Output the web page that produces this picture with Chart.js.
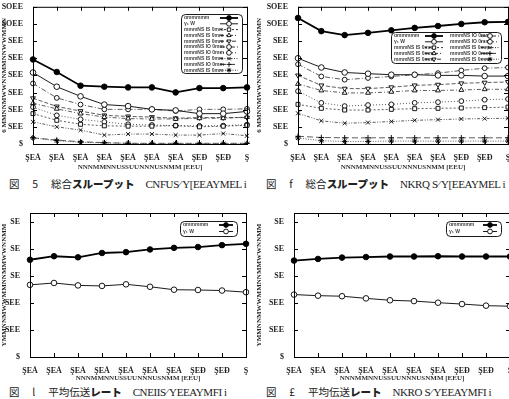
<!DOCTYPE html>
<html>
<head>
<meta charset="utf-8">
<script src="https://cdn.jsdelivr.net/npm/chart.js@4.4.1/dist/chart.umd.min.js"></script>
<style>
  body { margin: 0; width: 509px; height: 399px; overflow: hidden; background: #fff; position: relative; }
  .panel { position: absolute; }
  .cap { position: absolute; font-family: "Liberation Serif", serif; font-size: 11px; color: #222; white-space: nowrap; }
  .cap .jp { font-family: "Noto Sans CJK JP", sans-serif; font-size: 10.5px; }
  .cap b { font-family: "Noto Sans CJK JP", sans-serif; font-weight: 900; font-size: 10.5px; }
  .cap .la { letter-spacing: -0.4px; font-size: 11px; }
</style>
</head>
<body>
<div class="panel" style="left:0;top:0;width:255px;height:172px"><canvas id="c1"></canvas></div>
<div class="panel" style="left:255px;top:0;width:270px;height:172px"><canvas id="c2"></canvas></div>
<div class="panel" style="left:0;top:200px;width:255px;height:183px"><canvas id="c3"></canvas></div>
<div class="panel" style="left:255px;top:200px;width:270px;height:183px"><canvas id="c4"></canvas></div>

<div class="cap" style="left:9px;top:176px"><span class="jp">図　 5　 総合</span><b>スループット</b>　<span class="la">CNFUS⁄ Y[EEAYMEL i</span></div>
<div class="cap" style="left:266px;top:176px"><span class="jp">図　 f　 総合</span><b>スループット</b>　<span class="la">NKRQ S⁄ Y[EEAYMEL i</span></div>
<div class="cap" style="left:9px;top:384px"><span class="jp">図　 l　 平均伝送</span><b>レート</b>　<span class="la">CNEIIS⁄ YEEAYMFI i</span></div>
<div class="cap" style="left:266px;top:384px"><span class="jp">図　 £　 平均伝送</span><b>レート</b>　<span class="la">NKRO S⁄ YEEAYMFI i</span></div>

<script>
const xLabels = ['ŞEÅ', 'ŞEÅ', 'ŞEÅ', 'ŞEÅ', 'ŞEÅ', 'ŞEÅ', 'ŞEÅ', 'ŞEĐ', 'ŞEĐ', 'Ş'];
const yTicksTop = ['$', 'SEE', 'SEE', 'SEE', 'SEE', 'SEE', 'SEE', 'SOEE', 'SOEE'];
const yTicksBottom = ['$', 'SEE', 'SEE', 'SE', 'SE', 'SE'];

const seriesNames = ['ɑmmmmm', 'γ₁ W', 'mmmNS IS 0mm', 'mmmNS IS 0mm', 'mmmNS IS 0mm',
  'mmmNS IO 0mm', 'mmmNS IO 0mm', 'mmmNS IS 0mm', 'mmmNS IO 0mm', 'mmmNS IS 0mm'];

// throughput, figure 5 (left top)
const tl1 = [4.93, 4.20, 3.40, 3.34, 3.30, 3.30, 3.01, 3.26, 3.26, 3.30];
const tl2 = [4.17, 3.34, 2.78, 2.30, 2.21, 2.02, 1.96, 1.77, 1.77, 1.90];
const tl3 = [1.77, 1.38, 1.15, 1.06, 1.04, 1.04, 1.07, 1.00, 1.04, 1.09];
const tl4 = [2.38, 2.05, 1.77, 1.57, 1.48, 1.46, 1.46, 1.50, 1.50, 1.57];
const tl5 = [2.67, 2.19, 1.92, 1.67, 1.61, 1.57, 1.50, 1.54, 1.54, 1.54];
const tl6 = [3.53, 2.69, 2.30, 2.02, 2.02, 2.02, 1.92, 2.02, 2.02, 2.05];
const tl7 = [2.15, 1.67, 1.44, 1.29, 1.15, 1.11, 1.07, 1.06, 1.07, 1.13];
const tl8 = [1.29, 1.00, 0.81, 0.52, 0.58, 0.58, 0.52, 0.52, 0.61, 0.48];
const tl9 = [0.36, 0.23, 0.13, 0.08, 0.04, 0.04, 0.04, 0.04, 0.04, 0.04];
const tl10 = [0.36, 0.19, 0.10, 0.06, 0.04, 0.02, 0.02, 0.02, 0.02, 0.02];

// throughput, right top
const tr1 = [7.35, 6.58, 6.35, 6.48, 6.63, 6.77, 6.88, 7.00, 7.10, 7.12];
const tr2 = [5.00, 4.46, 4.17, 4.10, 4.04, 4.04, 4.00, 4.00, 3.96, 3.96];
const tr3 = [2.31, 2.08, 1.98, 1.98, 2.02, 2.06, 2.08, 2.10, 2.12, 2.15];
const tr4 = [3.50, 3.12, 2.98, 2.98, 3.04, 3.12, 3.12, 3.15, 3.19, 3.19];
const tr5 = [4.00, 3.42, 3.23, 3.23, 3.31, 3.42, 3.46, 3.54, 3.58, 3.62];
const tr6 = [4.65, 3.94, 3.75, 3.85, 3.94, 4.04, 4.13, 4.29, 4.42, 4.46];
const tr7 = [3.08, 2.40, 2.21, 2.27, 2.31, 2.40, 2.44, 2.50, 2.58, 2.62];
const tr8 = [1.79, 1.35, 1.21, 1.25, 1.31, 1.38, 1.42, 1.46, 1.48, 1.50];
const tr9 = [0.45, 0.38, 0.36, 0.36, 0.36, 0.36, 0.36, 0.36, 0.36, 0.36];
const tr10 = [0.35, 0.19, 0.15, 0.15, 0.17, 0.17, 0.17, 0.17, 0.17, 0.17];

// average rate, bottom
const bl1 = [3.60, 3.73, 3.69, 3.85, 3.88, 3.98, 4.04, 4.07, 4.14, 4.19];
const bl2 = [2.67, 2.74, 2.65, 2.63, 2.69, 2.60, 2.49, 2.48, 2.46, 2.40];
const br1 = [3.57, 3.63, 3.68, 3.70, 3.72, 3.72, 3.73, 3.72, 3.72, 3.72];
const br2 = [2.31, 2.27, 2.25, 2.17, 2.10, 2.07, 2.01, 1.96, 1.90, 1.88];

const styles = [
  { pointStyle: 'circle', filled: true, dash: [], width: 1.8, r: 2.8 },
  { pointStyle: 'circle', dash: [], width: 0.9, r: 2.8 },
  { pointStyle: 'rect', dash: [2, 2], width: 0.8, r: 2.8 },
  { pointStyle: 'triangle', dash: [4, 2, 1, 2], width: 0.8, r: 2.8 },
  { pointStyle: 'triangle', rotation: 180, dash: [4, 2], width: 0.8, r: 2.8 },
  { pointStyle: 'circle', dash: [5, 2, 1, 2], width: 0.8, r: 2.4 },
  { pointStyle: 'circle', dash: [1, 2], width: 0.8, r: 2.4 },
  { pointStyle: 'crossRot', dash: [3, 1.5, 1, 1.5, 1, 1.5], width: 0.8, r: 2.8 },
  { pointStyle: 'cross', dash: [6, 3], width: 0.8, r: 2.8 },
  { pointStyle: 'star', dash: [1, 1.5], width: 0.8, r: 2.8 }
];

function makeDatasets(list) {
  return list.map((data, i) => {
    const s = styles[i];
    return {
      label: seriesNames[i],
      data: data,
      borderColor: i < 2 ? '#000' : '#333',
      borderWidth: s.width,
      borderDash: s.dash,
      pointStyle: s.pointStyle,
      rotation: s.rotation || 0,
      pointRadius: s.r,
      pointBorderWidth: 0.9,
      pointBorderColor: '#000',
      pointBackgroundColor: s.filled ? '#000' : '#fff',
      tension: 0
    };
  });
}

const frame = {
  id: 'frame',
  afterDatasetsDraw(chart) {
    const { ctx, chartArea: a } = chart;
    const ys = chart.scales.y, xs = chart.scales.x;
    ctx.save();
    ctx.strokeStyle = '#000';
    ctx.lineWidth = 1;
    ctx.setLineDash([]);
    ctx.strokeRect(a.left + 0.5, a.top + 0.5, a.right - a.left, a.bottom - a.top);
    ctx.beginPath();
    ys.ticks.forEach(t => {
      const p = Math.round(ys.getPixelForValue(t.value)) + 0.5;
      ctx.moveTo(a.left, p); ctx.lineTo(a.left + 4, p);
      ctx.moveTo(a.right, p); ctx.lineTo(a.right - 4, p);
    });
    xs.ticks.forEach((t, i) => {
      const p = Math.round(xs.getPixelForTick(i)) + 0.5;
      ctx.moveTo(p, a.bottom); ctx.lineTo(p, a.bottom - 4);
      ctx.moveTo(p, a.top); ctx.lineTo(p, a.top + 4);
    });
    ctx.stroke();
    ctx.restore();
  }
};

const legendBox = {
  id: 'legendBox',
  afterDatasetsDraw(chart, args, o) {
    if (!o || !o.w) return;
    const ctx = chart.ctx;
    ctx.save();
    ctx.fillStyle = '#fff';
    ctx.strokeStyle = '#000';
    ctx.lineWidth = 0.9;
    ctx.setLineDash([]);
    ctx.beginPath();
    ctx.roundRect(o.x + 0.5, o.y + 0.5, o.w, o.h, 4);
    ctx.fill();
    ctx.stroke();
    ctx.font = 'bold 5px "Liberation Sans Narrow", "Liberation Sans", sans-serif';
    ctx.textBaseline = 'middle';
    chart.data.datasets.forEach((ds, i) => {
      const col = Math.floor(i / o.rows), row = i % o.rows;
      const left = o.x + 3 + col * o.colW;
      const cy = o.y + 4 + row * o.rowH;
      ctx.fillStyle = '#444';
      ctx.fillText(ds.label, left, cy);
      const l0 = left + o.textW, l1 = l0 + o.sample;
      ctx.strokeStyle = '#000';
      ctx.lineWidth = ds.borderWidth;
      ctx.setLineDash(ds.borderDash);
      ctx.beginPath();
      ctx.moveTo(l0, cy); ctx.lineTo(l1, cy);
      ctx.stroke();
      ctx.setLineDash([]);
      ctx.lineWidth = 0.9;
      ctx.fillStyle = ds.pointBackgroundColor;
      Chart.helpers.drawPoint(ctx, {
        pointStyle: ds.pointStyle, rotation: ds.rotation,
        radius: Math.min(ds.pointRadius, 2.4), borderWidth: 0.9
      }, (l0 + l1) / 2, cy);
    });
    ctx.restore();
  }
};

const yTitle = '6 MMNNMWWNNMMNNWWMMN';
const yTitleB = 'YMMNNMWWMMNNMMWWNNMM';
const xTitle = 'NNNMMNNUSSUUNNNUSNMM [EEU]';

function makeChart(id, datasets, opt) {
  const yTicks = opt.yTicks;
  return new Chart(document.getElementById(id), {
    type: 'line',
    data: { labels: xLabels, datasets: datasets },
    plugins: [frame, legendBox],
    options: {
      responsive: true,
      maintainAspectRatio: false,
      animation: false,
      layout: { padding: { top: opt.top, right: opt.right, left: 0, bottom: 0 } },
      plugins: {
        legend: { display: false },
        tooltip: { enabled: false },
        legendBox: opt.legend
      },
      scales: {
        x: {
          offset: false,
          grid: { display: false },
          border: { display: false },
          ticks: { color: '#222', font: { family: 'Liberation Serif', size: 8, weight: 'bold' }, padding: 1, maxRotation: 0, autoSkip: false },
          title: { display: true, text: xTitle, color: '#333', padding: 1,
            font: { family: 'Liberation Sans Narrow', size: 7, weight: 'bold' } },
          afterFit(s) { s.height = opt.xh; }
        },
        y: {
          min: 0, max: opt.ymax,
          grid: { display: false },
          border: { display: false },
          afterBuildTicks(s) { s.ticks = yTicks.map((t, i) => ({ value: i })); },
          ticks: {
            padding: 2, color: '#222', autoSkip: false,
            font: { family: 'Liberation Serif', size: 8, weight: 'bold' },
            callback: (v) => yTicks[v] !== undefined ? yTicks[v] : ''
          },
          title: { display: true, text: opt.yTitle, color: '#222', padding: 0,
            font: { family: 'Liberation Sans Narrow', size: 7, weight: 'bold' } },
          afterFit(s) { s.width = opt.yw; }
        }
      }
    }
  });
}

makeChart('c1', makeDatasets([tl1, tl2, tl3, tl4, tl5, tl6, tl7, tl8, tl9, tl10]), {
  top: 5, right: 8, xh: 28, yw: 33, ymax: 8, yTicks: yTicksTop, yTitle: yTitle,
  legend: { x: 181, y: 14, w: 61, h: 59, rows: 10, rowH: 5.8, colW: 0, textW: 36, sample: 18 }
});
makeChart('c2', makeDatasets([tr1, tr2, tr3, tr4, tr5, tr6, tr7, tr8, tr9, tr10]), {
  top: 5, right: 17, xh: 28, yw: 43, ymax: 8, yTicks: yTicksTop, yTitle: yTitle,
  legend: { x: 136, y: 32, w: 110, h: 31, rows: 5, rowH: 5.8, colW: 56, textW: 31, sample: 18 }
});
makeChart('c3', makeDatasets([bl1, bl2]), {
  top: 13, right: 9, xh: 26, yw: 30, ymax: 5.33, yTicks: yTicksBottom, yTitle: yTitleB,
  legend: { x: 180, y: 21, w: 57, h: 15, rows: 2, rowH: 6.5, colW: 0, textW: 36, sample: 14 }
});
makeChart('c4', makeDatasets([br1, br2]), {
  top: 13, right: 15, xh: 26, yw: 39, ymax: 5.33, yTicks: yTicksBottom, yTitle: yTitleB,
  legend: { x: 191, y: 21, w: 55, h: 15, rows: 2, rowH: 6.5, colW: 0, textW: 34, sample: 14 }
});
</script>
</body>
</html>
